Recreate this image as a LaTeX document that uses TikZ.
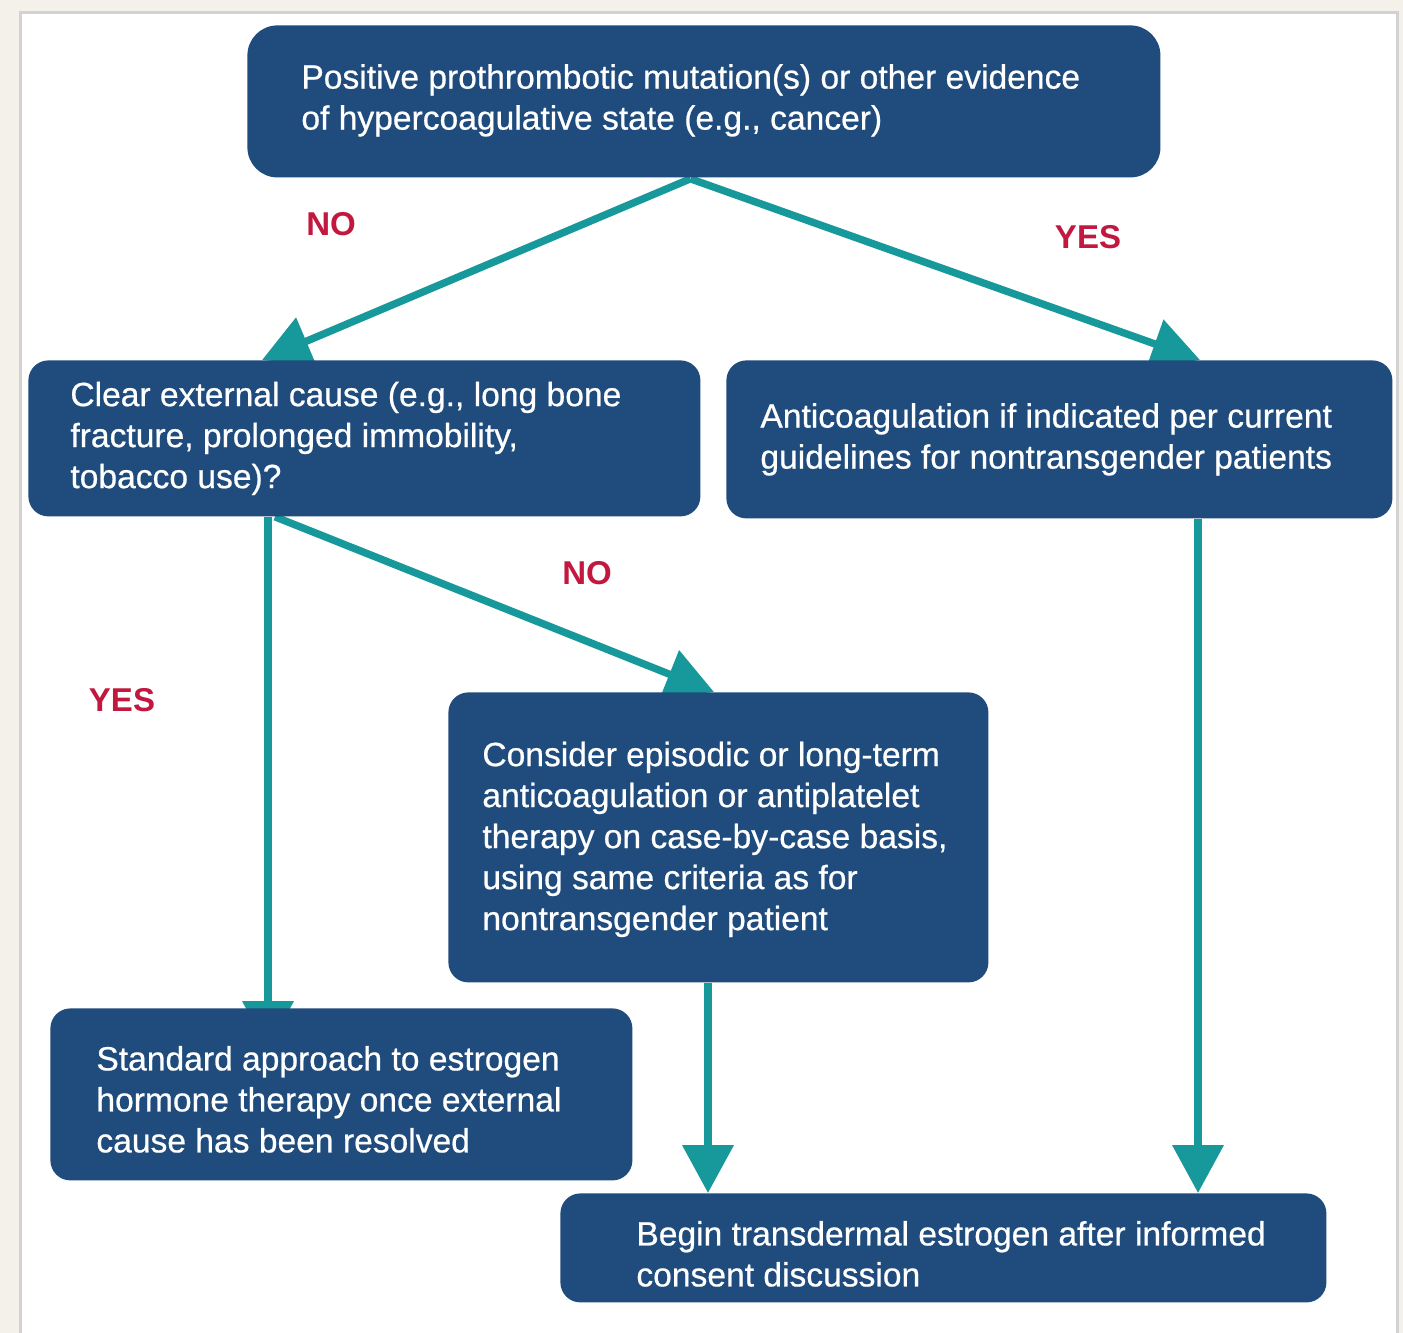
\documentclass[tikz,border=0pt]{standalone}
\usepackage{fontspec}
\setmainfont{Liberation Sans}
\newfontfamily\boxfont{Liberation Sans}[FakeBold=0.6]
\usetikzlibrary{arrows.meta,calc}
\definecolor{boxblue}{HTML}{1F4C7C}
\definecolor{tealarrow}{HTML}{17989B}
\definecolor{lblred}{HTML}{C2173F}
\definecolor{bgbeige}{HTML}{F4F1EA}
\definecolor{panelgray}{HTML}{D2D2D2}
\pgfdeclarelayer{back}
\pgfdeclarelayer{conn}
\pgfsetlayers{back,conn,main}
\begin{document}
\begin{tikzpicture}[x=0.5pt,y=-0.5pt,
  box/.style={fill=boxblue, rounded corners=10pt, anchor=north west, inner sep=0pt},
  txt/.style={text=white, font=\boxfont\fontsize{16.8}{20.5}\selectfont, align=left, inner sep=0pt, anchor=west},
  lbl/.style={text=lblred, font=\fontsize{16.5}{19}\selectfont\bfseries, inner sep=0pt},
  arr/.style={draw=tealarrow, line width=3.7pt, -{Triangle[length=24pt,width=25pt]}}]
\useasboundingbox (0,0) rectangle (1403,1333);
\begin{pgfonlayer}{back}
  \fill[bgbeige] (0,0) rectangle (1403,1333);
  \draw[panelgray, line width=1.5pt, fill=white] (20,12) rectangle (1397,1345);
\end{pgfonlayer}

% boxes
\node[box, rounded corners=15pt, minimum width=456.5pt, minimum height=76pt] (top) at (247,25) {};
\node[box, minimum width=336pt, minimum height=78pt] (clear) at (28,360) {};
\node[box, minimum width=333pt, minimum height=79pt] (anti) at (726,360) {};
\node[box, minimum width=270pt, minimum height=145pt] (consider) at (448,692) {};
\node[box, minimum width=291pt, minimum height=86pt] (standard) at (50,1008) {};
\node[box, minimum width=383pt, minimum height=54.5pt] (begin) at (560,1193) {};

% texts
\node[txt] (ttop) at ($(top.west)+(54,-1)$) {Positive prothrombotic mutation(s) or other evidence\\of hypercoagulative state (e.g., cancer)};
\node[txt] (tclear) at ($(clear.west)+(42,0)$) {Clear external cause (e.g., long bone\\fracture, prolonged immobility,\\tobacco use)?};
\node[txt] (tanti) at ($(anti.west)+(34,0)$) {Anticoagulation if indicated per current\\guidelines for nontransgender patients};
\node[txt] (tconsider) at ($(consider.west)+(34,2)$) {Consider episodic or long-term\\anticoagulation or antiplatelet\\therapy on case-by-case basis,\\using same criteria as for\\nontransgender patient};
\node[txt] (tstandard) at ($(standard.west)+(46,5)$) {Standard approach to estrogen\\hormone therapy once external\\cause has been resolved};
\node[txt] (tbegin) at ($(begin.west)+(76,6)$) {Begin transdermal estrogen after informed\\consent discussion};

% labels
\node[lbl] (no1) at (331,224) {NO};
\node[lbl] (yes1) at (1088,237) {YES};
\node[lbl] (no2) at (587,573) {NO};
\node[lbl] (yes2) at (122,700) {YES};

% connectors
\begin{pgfonlayer}{conn}
  \draw[arr] ($(top.south)+(-13.5,1)$) -- ($(clear.north west)+(234,0)$);
  \draw[arr] ($(top.south)+(-13.5,1)$) -- ($(anti.north west)+(474,0)$);
  \draw[arr] ($(clear.south west)+(247,0)$) -- ($(consider.north west)+(266,0)$);
  \draw[arr] ($(clear.south west)+(240,0)$) -- ($(standard.north west)+(218,41)$);
  \draw[arr] ($(consider.south west)+(260,0)$) -- ($(begin.north west)+(148,0)$);
  \draw[arr] ($(anti.south west)+(472,0)$) -- ($(begin.north west)+(638,0)$);
\end{pgfonlayer}
\end{tikzpicture}
\end{document}
